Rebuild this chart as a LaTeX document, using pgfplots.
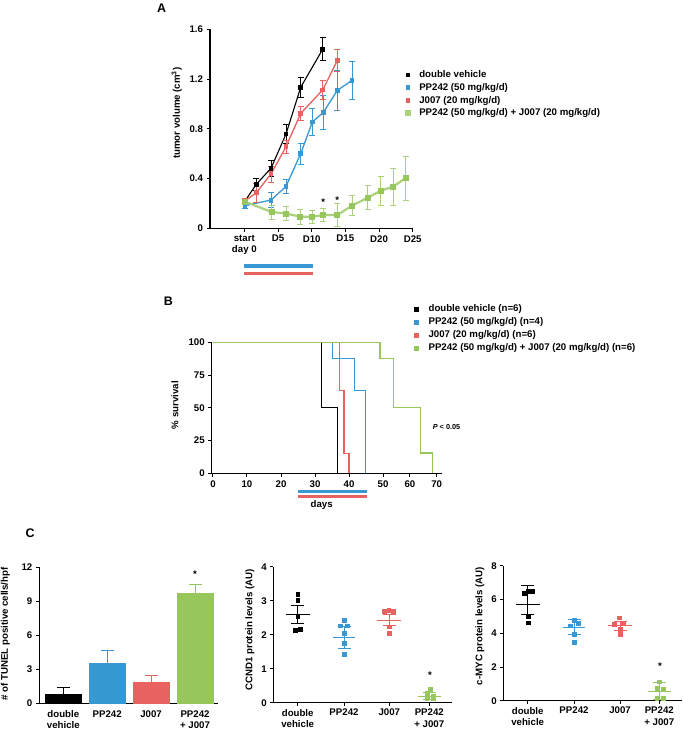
\documentclass[border=0pt]{standalone}
\usepackage{fontspec}
\setmainfont{Liberation Sans}
\usepackage{pgfplots}
\pgfplotsset{compat=1.18}
\definecolor{cblue}{RGB}{56,152,212}
\definecolor{cred}{RGB}{232,98,96}
\definecolor{cgreen}{RGB}{150,198,92}
\newcommand{\lf}{\fontsize{9.7}{11.3}\selectfont\bfseries}
\pgfplotsset{
  panel/.style={
    scale only axis, anchor=south west,
    axis lines=left,
    axis line style={-, line width=1.1bp, black},
    tick style={line width=1bp, black},
    major tick length=3.5bp, tick align=outside,
    tick label style={font=\lf},
    /pgf/number format/assume math mode=true,
    label style={font=\lf},
    ylabel style={anchor=center},
    clip=false,
  },
  sqleg/.style={
    legend image code/.code={\fill[##1] (0bp,-1.7bp) rectangle (3.4bp,1.7bp); \path[draw=none,fill=none] (0bp,0bp) -- (#1,0bp);},
    legend cell align=left,
  },
  eb/.style={error bars/y dir=both, error bars/y explicit,
    error bars/error bar style={line width=0.8bp},
    error bars/error mark options={rotate=90, line width=0.8bp, mark size=#1}},
  ebp/.style={error bars/y dir=plus, error bars/y explicit,
    error bars/error bar style={draw=#1, line width=0.8bp},
    error bars/error mark options={rotate=90, draw=#1, line width=0.8bp, mark size=6.5bp}},
}
\begin{document}
\begin{tikzpicture}
\useasboundingbox (0,0) rectangle (683bp,730bp);
% ---------------- Panel A ----------------
\node[font=\fontsize{12.5}{14}\selectfont\bfseries] at (161.7bp,721.7bp) {A};
\begin{axis}[panel, at={(210bp,501.7bp)}, width=202.7bp, height=199bp,
  xmin=-5.1, xmax=25, ymin=0, ymax=1.6,
  xtick={0,5,10,15,20,25}, xticklabels={{start\\day 0},D5,D10,D15,D20,D25},
  xticklabel style={align=center},
  ytick={0,0.4,0.8,1.2,1.6}, yticklabels={0,0.4,0.8,1.2,1.6},
  ylabel={tumor volume (cm\textsuperscript{3})},
  ylabel style={at={(axis description cs:-0.164,0.578)}},
  sqleg=13bp,
  legend style={at={(0.962,0.794)}, anchor=north west, draw=none, fill=none, inner sep=0pt,
    row sep=3.6bp, font=\lf, nodes={inner sep=0pt, text height=7.2bp, text depth=1.9bp}},
]
\addplot[black, line width=1.1bp, mark=square*, mark size=1.8bp, eb=3bp] coordinates {
 (0.1,0.22) +- (0,0.02) (1.78,0.354) +- (0,0.048) (3.96,0.483) +- (0,0.066)
 (6.19,0.758) +- (0,0.078) (8.37,1.134) +- (0,0.08) (11.63,1.439) +- (0,0.093)};
\addlegendentry{double vehicle}
\addplot[cblue, line width=1.3bp, mark=square*, mark size=1.8bp, eb=3bp] coordinates {
 (0.1,0.182) +- (0,0.02) (3.96,0.227) +- (0,0.06) (6.19,0.337) +- (0,0.054)
 (8.37,0.6) +- (0,0.084) (10.1,0.855) +- (0,0.111) (11.73,0.932) +- (0,0.134)
 (13.81,1.109) +- (0,0.163) (15.99,1.19) +- (0,0.154)};
\addlegendentry{PP242 (50 mg/kg/d)}
\addplot[cred, line width=1.3bp, mark=square*, mark size=1.8bp, eb=3bp] coordinates {
 (0.1,0.22) +- (0,0.02) (1.78,0.286) +- (0,0.074) (3.96,0.437) +- (0,0.064)
 (6.19,0.656) +- (0,0.054) (8.37,0.924) +- (0,0.054) (11.63,1.112) +- (0,0.074)
 (13.81,1.35) +- (0,0.087)};
\addlegendentry{J007 (20 mg/kg/d)}
\addplot[cgreen!80!white, line width=2.2bp, mark=square*, mark size=1.8bp, mark options={fill=cgreen, draw=cgreen}, eb=3bp] coordinates {
 (0.1,0.214) +- (0,0.02) (4.06,0.131) +- (0,0.056) (6.24,0.118) +- (0,0.056)
 (8.32,0.093) +- (0,0.062) (10.1,0.093) +- (0,0.054) (11.73,0.107) +- (0,0.054)
 (13.81,0.107) +- (0,0.094) (15.99,0.182) +- (0,0.08) (18.32,0.246) +- (0,0.096)
 (20.25,0.302) +- (0,0.118) (22.08,0.335) +- (0,0.147) (23.96,0.404) +- (0,0.177)};
\addlegendentry{PP242 (50 mg/kg/d) + J007 (20 mg/kg/d)}
\addplot[cblue, line width=3.3bp, forget plot] coordinates {(0,-0.303) (10.25,-0.303)};
\addplot[cred, line width=3.3bp, forget plot] coordinates {(0,-0.362) (10.25,-0.362)};
\node[font=\lf] at (axis cs:11.73,0.21) {*};
\node[font=\lf] at (axis cs:13.81,0.228) {*};
\end{axis}
% ---------------- Panel B ----------------
\node[font=\fontsize{12.5}{14}\selectfont\bfseries] at (168.3bp,428.3bp) {B};
\begin{axis}[panel, at={(211.7bp,256.7bp)}, width=230bp, height=131bp,
  xmin=-0.38, xmax=67.26, ymin=0, ymax=100,
  xtick={0,10,20,30,40,50,57.9,65.8}, xticklabels={0,10,20,30,40,50,60,70},
  ytick={0,25,50,75,100}, yticklabels={0,25,50,75,100},
  ylabel={\% survival}, ylabel style={at={(axis description cs:-0.16,0.52)}},
  xlabel={days}, xlabel style={at={(axis description cs:0.478,-0.242)}, anchor=center},
  sqleg=13.7bp,
  legend style={at={(0.88,1.288)}, anchor=north west, draw=none, fill=none, inner sep=0pt,
    row sep=3.9bp, font=\lf, nodes={inner sep=0pt, text height=7.2bp, text depth=1.9bp}},
]
\addplot[black, line width=1.2bp] coordinates {(0,100) (31.8,100) (31.8,50) (36.5,50) (36.5,0)};
\addlegendentry{double vehicle (n=6)}
\addplot[cblue, line width=1.2bp] coordinates {(0,100) (35.1,100) (35.1,87.5) (41.5,87.5) (41.5,63) (44.9,63) (44.9,0)};
\addlegendentry{PP242 (50 mg/kg/d) (n=4)}
\addplot[cred, line width=1.2bp] coordinates {(0,100) (37.1,100) (37.1,63) (38.5,63) (38.5,15) (40.0,15) (40.0,0)};
\addlegendentry{J007 (20 mg/kg/d) (n=6)}
\addplot[cgreen, line width=1.2bp] coordinates {(0,100) (49.1,100) (49.1,87.5) (53.0,87.5) (53.0,50) (61.1,50) (61.1,15.5) (64.5,15.5) (64.5,0)};
\addlegendentry{PP242 (50 mg/kg/d) + J007 (20 mg/kg/d) (n=6)}
\addplot[cblue, line width=3bp, forget plot] coordinates {(25.1,-14.1) (45.4,-14.1)};
\addplot[cred, line width=3bp, forget plot] coordinates {(25.1,-17.9) (45.4,-17.9)};
\node[anchor=west, inner sep=0pt, font=\fontsize{7.3}{8}\selectfont\bfseries] at (axis cs:64.6,35.1) {\textit{P} < 0.05};
\end{axis}
% ---------------- Panel C ----------------
\node[font=\fontsize{12.5}{14}\selectfont\bfseries] at (30bp,196.7bp) {C};
\begin{axis}[panel, at={(39.3bp,26.7bp)}, width=179bp, height=136bp,
  xmin=-0.547, xmax=3.53, ymin=0, ymax=12,
  xtick={0,1,2,3}, xticklabels={{double\\vehicle},PP242,J007,{PP242\\+ J007}},
  xticklabel style={align=center}, x tick style={draw=none},
  ytick={0,3,6,9,12},
  ylabel={\# of TUNEL positive cells/hpf}, ylabel style={at={(axis description cs:-0.189,0.51)}},
]
\addplot[ybar, bar width=36bp, bar shift=0pt, fill=black, draw=black, line width=0.1bp, ebp=black]
  coordinates {(0,0.85) +- (0,0.56)};
\addplot[ybar, bar width=36bp, bar shift=0pt, fill=cblue, draw=cblue, line width=0.1bp, ebp=cblue]
  coordinates {(1,3.56) +- (0,1.08)};
\addplot[ybar, bar width=36bp, bar shift=0pt, fill=cred, draw=cred, line width=0.1bp, ebp=cred]
  coordinates {(2,1.91) +- (0,0.53)};
\addplot[ybar, bar width=36bp, bar shift=0pt, fill=cgreen, draw=cgreen, line width=0.1bp, ebp=cgreen]
  coordinates {(3,9.71) +- (0,0.8)};
\node[font=\lf] at (axis cs:3,11.4) {*};
\end{axis}
% C2
\begin{axis}[panel, at={(273.3bp,27.3bp)}, width=178.4bp, height=136bp,
  xmin=0, xmax=178.4, ymin=0, ymax=4,
  xtick={24.4,70.7,116,156}, xticklabels={{double\\vehicle},PP242,J007,{PP242\\+ J007}},
  xticklabel style={align=center}, major tick length=3bp,
  ytick={0,1,2,3,4},
  ylabel={CCND1 protein levels (AU)}, ylabel style={at={(axis description cs:-0.131,0.535)}},
]
\addplot[black, only marks, mark=square*, mark size=1.8bp] coordinates {(24.4,3.19) (24.4,3.01) (24.4,2.53) (22.1,2.14) (26.7,2.17)};
\addplot[black, only marks, mark=-, mark size=12bp, mark options={line width=0.8bp}, eb=6.5bp] coordinates {(24.4,2.59) +- (0,0.27)};
\addplot[cblue, only marks, mark=square*, mark size=1.8bp] coordinates {(70.7,2.43) (66.7,2.27) (74,2.27) (70.7,2.04) (70.7,1.75) (70.7,1.43)};
\addplot[cblue, only marks, mark=-, mark size=11bp, mark options={line width=0.8bp}, eb=6.5bp] coordinates {(70.7,1.92) +- (0,0.31)};
\addplot[cred, only marks, mark=square*, mark size=1.8bp] coordinates {(110.7,2.70) (115.4,2.72) (120,2.70) (116,2.24) (116,2.04)};
\addplot[cred, only marks, mark=-, mark size=12bp, mark options={line width=0.8bp}, eb=6.5bp] coordinates {(116,2.43) +- (0,0.17)};
\addplot[cgreen, only marks, mark=square*, mark size=1.8bp] coordinates {(156.7,0.39) (153.4,0.28) (160,0.2) (153.4,0.13) (160,0.13)};
\addplot[cgreen, only marks, mark=-, mark size=11.5bp, mark options={line width=0.8bp}, eb=6.5bp] coordinates {(156,0.2) +- (0,0.11)};
\node[font=\lf] at (axis cs:156.7,0.82) {*};
\end{axis}
% C3
\begin{axis}[panel, at={(503.3bp,29.3bp)}, width=178.4bp, height=134.7bp,
  xmin=0, xmax=178.4, ymin=0, ymax=8,
  xtick={24.4,70.7,116.7,156}, xticklabels={{double\\vehicle},PP242,J007,{PP242\\+ J007}},
  xticklabel style={align=center}, major tick length=3bp,
  ytick={0,2,4,6,8},
  ylabel={c-MYC protein levels (AU)}, ylabel style={at={(axis description cs:-0.131,0.555)}},
]
\addplot[black, only marks, mark=square*, mark size=1.8bp] coordinates {(20.7,6.38) (25,6.51) (29.4,6.51) (25,4.99) (25,4.63)};
\addplot[black, only marks, mark=-, mark size=12bp, mark options={line width=0.8bp}, eb=6.5bp] coordinates {(24.4,5.72) += (0,1.15) -= (0,0.59)};
\addplot[cblue, only marks, mark=square*, mark size=1.8bp] coordinates {(70.7,4.79) (66.7,4.45) (75,4.6) (70.7,3.96) (70.7,3.47)};
\addplot[cblue, only marks, mark=-, mark size=11bp, mark options={line width=0.8bp}, eb=6.5bp] coordinates {(70.7,4.36) +- (0,0.45)};
\addplot[cred, only marks, mark=square*, mark size=1.8bp] coordinates {(110.7,4.55) (115.7,4.93) (120,4.6) (116.7,4.24) (116.7,3.96)};
\addplot[cred, only marks, mark=-, mark size=12bp, mark options={line width=0.8bp}, eb=6.5bp] coordinates {(116.7,4.45) +- (0,0.26)};
\addplot[cgreen, only marks, mark=square*, mark size=1.8bp] coordinates {(156,1.13) (153.4,0.73) (160,0.68) (153.4,0.14) (160,0.14)};
\addplot[cgreen, only marks, mark=-, mark size=11.5bp, mark options={line width=0.8bp}, eb=6.5bp] coordinates {(156,0.58) +- (0,0.52)};
\node[font=\lf] at (axis cs:156.7,2.05) {*};
\end{axis}
\end{tikzpicture}
\end{document}
